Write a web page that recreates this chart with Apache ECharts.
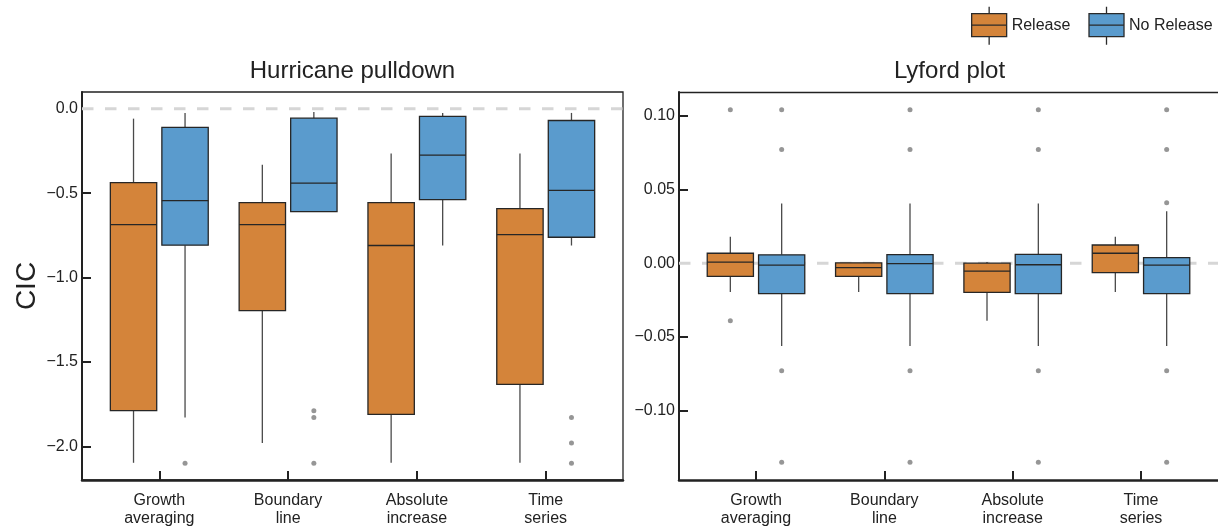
<!DOCTYPE html>
<html>
<head>
<meta charset="utf-8">
<script src="https://cdn.jsdelivr.net/npm/echarts@6/dist/echarts.min.js"></script>
<style>
  html, body { margin: 0; padding: 0; background: #fff; }
  #chart { width: 1218px; height: 528px; }
</style>
</head>
<body>
<div id="chart"></div>
<script>
// ---------- data ----------
const categories = ['Growth\naveraging', 'Boundary\nline', 'Absolute\nincrease', 'Time\nseries'];
const seriesNames = ['Release', 'No Release'];
const panelTitles = ['Hurricane pulldown', 'Lyford plot'];
const yAxisTitle = 'CIC';

// box stats: [lower whisker, Q1, median, Q3, upper whisker]
const hurricaneRelease = [
  [-2.098, -1.789, -0.686, -0.437, -0.058],
  [-1.980, -1.196, -0.686, -0.556, -0.331],
  [-2.098, -1.811, -0.810, -0.556, -0.264],
  [-2.098, -1.633, -0.745, -0.591, -0.264]
];
const hurricaneNoRelease = [
  [-1.830, -0.808, -0.544, -0.110, -0.024],
  [-0.609, -0.609, -0.440, -0.055, -0.018],
  [-0.810, -0.538, -0.274, -0.044, -0.024],
  [-0.810, -0.761, -0.483, -0.069, -0.024]
];
const hurricaneReleaseOutliers = [[], [], [], []];
const hurricaneNoReleaseOutliers = [[-2.10], [-1.79, -1.83, -2.10], [], [-1.83, -1.98, -2.10]];

const lyfordRelease = [
  [-0.0195, -0.0090, 0.0007, 0.0067, 0.0179],
  [-0.0195, -0.0090, -0.0030, 0.0002, 0.0004],
  [-0.0390, -0.0198, -0.0054, 0.0000, 0.0007],
  [-0.0195, -0.0065, 0.0067, 0.0123, 0.0179]
];
const lyfordNoRelease = [
  [-0.0561, -0.0207, -0.0013, 0.0056, 0.0404],
  [-0.0561, -0.0207, -0.0003, 0.0058, 0.0404],
  [-0.0561, -0.0207, -0.0011, 0.0060, 0.0404],
  [-0.0561, -0.0207, -0.0013, 0.0038, 0.0352]
];
const lyfordReleaseOutliers = [[0.104, -0.039], [], [], []];
const lyfordNoReleaseOutliers = [
  [0.104, 0.077, -0.073, -0.135],
  [0.104, 0.077, -0.073, -0.135],
  [0.104, 0.077, -0.073, -0.135],
  [0.104, 0.077, 0.041, -0.073, -0.135]
];

const hurricaneTicks = [0, -0.5, -1.0, -1.5, -2.0];
const hurricaneTickLabels = ['0.0', '\u22120.5', '\u22121.0', '\u22121.5', '\u22122.0'];
const lyfordTicks = [0.10, 0.05, 0.00, -0.05, -0.10];
const lyfordTickLabels = ['0.10', '0.05', '0.00', '\u22120.05', '\u22120.10'];

// ---------- styling / layout ----------
const FONT = "'Liberation Sans', Arial, Helvetica, sans-serif";
const ORANGE = '#D4843A';
const BLUE = '#5A9BCD';
const INK = '#222222';
const BOX_W = 0.36;
const OFFSET = 0.2;
const X_MIN = -0.6, X_MAX = 3.6;
const catIdx = categories.map((c, i) => i);

function boxRender(offset, fill) {
  return function (params, api) {
    const c = api.value(0) + offset;
    const pLow = api.coord([c, api.value(1)]);
    const pQ1 = api.coord([c, api.value(2)]);
    const pMed = api.coord([c, api.value(3)]);
    const pQ3 = api.coord([c, api.value(4)]);
    const pHigh = api.coord([c, api.value(5)]);
    const w = api.size([BOX_W, 0])[0];
    const x0 = pMed[0] - w / 2;
    const children = [];
    if (Math.abs(pHigh[1] - pQ3[1]) > 0.5) children.push({
      type: 'line', shape: { x1: pQ3[0], y1: pQ3[1], x2: pHigh[0], y2: pHigh[1] },
      style: { stroke: '#4a4a4a', lineWidth: 1.3 }
    });
    if (Math.abs(pLow[1] - pQ1[1]) > 0.5) children.push({
      type: 'line', shape: { x1: pQ1[0], y1: pQ1[1], x2: pLow[0], y2: pLow[1] },
      style: { stroke: '#4a4a4a', lineWidth: 1.3 }
    });
    children.push({
      type: 'rect', shape: { x: x0, y: pQ3[1], width: w, height: pQ1[1] - pQ3[1] },
      style: { fill: fill, stroke: '#262626', lineWidth: 1.3 }
    });
    children.push({
      type: 'line', shape: { x1: x0, y1: pMed[1], x2: x0 + w, y2: pMed[1] },
      style: { stroke: '#262626', lineWidth: 1.3 }
    });
    return { type: 'group', children: children };
  };
}

function boxSeries(name, stats, offset, color, gi) {
  return {
    type: 'custom', name: name, xAxisIndex: gi, yAxisIndex: gi, z: 3,
    itemStyle: { color: color },
    encode: { x: 0, y: [1, 2, 3, 4, 5] },
    data: stats.map((s, i) => [catIdx[i]].concat(s)),
    renderItem: boxRender(offset, color), silent: true
  };
}

function outlierSeries(outliers, offset, gi) {
  const pts = [];
  outliers.forEach((arr, i) => arr.forEach(v => pts.push([catIdx[i] + offset, v])));
  return {
    type: 'scatter', xAxisIndex: gi, yAxisIndex: gi, z: 4, silent: true,
    symbol: 'circle', symbolSize: 5, itemStyle: { color: '#7c7c7c' },
    data: pts
  };
}

function zeroLine(gi) {
  return {
    type: 'line', xAxisIndex: gi, yAxisIndex: gi, z: 1, silent: true,
    symbol: 'none', data: [[X_MIN, 0], [X_MAX, 0]],
    lineStyle: { color: '#d6d6d6', width: 3, type: [11.5, 11.5] }
  };
}

function xAxis(gi) {
  return {
    type: 'value', gridIndex: gi, min: X_MIN, max: X_MAX,
    splitLine: { show: false },
    axisLine: { show: true, onZero: false, lineStyle: { color: INK, width: 2.5 } },
    axisTick: { show: true, inside: true, length: 9, customValues: catIdx, lineStyle: { color: INK, width: 2 } },
    axisLabel: {
      customValues: catIdx, formatter: v => categories[Math.round(v)],
      color: INK, fontFamily: FONT, fontSize: 16, lineHeight: 18.5, margin: 11
    }
  };
}

function topBorder(gi) {
  return {
    type: 'value', gridIndex: gi, min: X_MIN, max: X_MAX, position: 'top',
    splitLine: { show: false }, axisTick: { show: false }, axisLabel: { show: false },
    axisLine: { show: true, onZero: false, lineStyle: { color: INK, width: 1.3 } }
  };
}

function yAxis(gi, min, max, ticks, labels, name) {
  return {
    type: 'value', gridIndex: gi, min: min, max: max,
    splitLine: { show: false },
    name: name || '', nameLocation: 'middle', nameRotate: 90, nameGap: 55,
    nameTextStyle: { color: INK, fontFamily: FONT, fontSize: 28, verticalAlign: 'middle' },
    axisLine: { show: true, onZero: false, lineStyle: { color: INK, width: 2 } },
    axisTick: { show: true, inside: true, length: 9, customValues: ticks, lineStyle: { color: INK, width: 2 } },
    axisLabel: {
      customValues: ticks,
      formatter: v => { const k = ticks.findIndex(t => Math.abs(t - v) < 1e-9); return k >= 0 ? labels[k] : ''; },
      color: INK, fontFamily: FONT, fontSize: 16, margin: 4, padding: [4, 0, 0, 0]
    }
  };
}

const legendIcon = 'path://M17.5,0L17.5,7M0,7L35,7L35,30L0,30ZM0,18.5L35,18.5M17.5,30L17.5,38';

const option = {
  animation: false,
  backgroundColor: '#ffffff',
  title: [
    { text: panelTitles[0], left: 352.5, textAlign: 'center', top: 59.5, padding: 0,
      textStyle: { color: INK, fontFamily: FONT, fontSize: 24, fontWeight: 'normal' } },
    { text: panelTitles[1], left: 949.5, textAlign: 'center', top: 59.5, padding: 0,
      textStyle: { color: INK, fontFamily: FONT, fontSize: 24, fontWeight: 'normal' } }
  ],
  legend: {
    data: seriesNames, left: 971, top: 6, padding: 0, itemGap: 18,
    itemWidth: 35, itemHeight: 39, icon: legendIcon, selectedMode: false,
    itemStyle: { borderColor: '#2a2a2a', borderWidth: 1.3 },
    textStyle: { color: INK, fontFamily: FONT, fontSize: 16 }
  },
  grid: [
    { left: 82, top: 92, width: 541, height: 390, show: true, borderColor: INK, borderWidth: 1.3, backgroundColor: 'transparent' },
    { left: 679, top: 92, width: 541, height: 390, show: false }
  ],
  xAxis: [xAxis(0), xAxis(1), topBorder(1)],
  yAxis: [
    yAxis(0, -2.2, 0.1, hurricaneTicks, hurricaneTickLabels, yAxisTitle),
    yAxis(1, -0.147, 0.116, lyfordTicks, lyfordTickLabels, '')
  ],
  series: [
    zeroLine(0), zeroLine(1),
    boxSeries(seriesNames[0], hurricaneRelease, -OFFSET, ORANGE, 0),
    boxSeries(seriesNames[1], hurricaneNoRelease, OFFSET, BLUE, 0),
    boxSeries(seriesNames[0], lyfordRelease, -OFFSET, ORANGE, 1),
    boxSeries(seriesNames[1], lyfordNoRelease, OFFSET, BLUE, 1),
    outlierSeries(hurricaneReleaseOutliers, -OFFSET, 0),
    outlierSeries(hurricaneNoReleaseOutliers, OFFSET, 0),
    outlierSeries(lyfordReleaseOutliers, -OFFSET, 1),
    outlierSeries(lyfordNoReleaseOutliers, OFFSET, 1)
  ]
};

const chart = echarts.init(document.getElementById('chart'), null, { renderer: 'canvas' });
chart.setOption(option);
</script>
</body>
</html>
